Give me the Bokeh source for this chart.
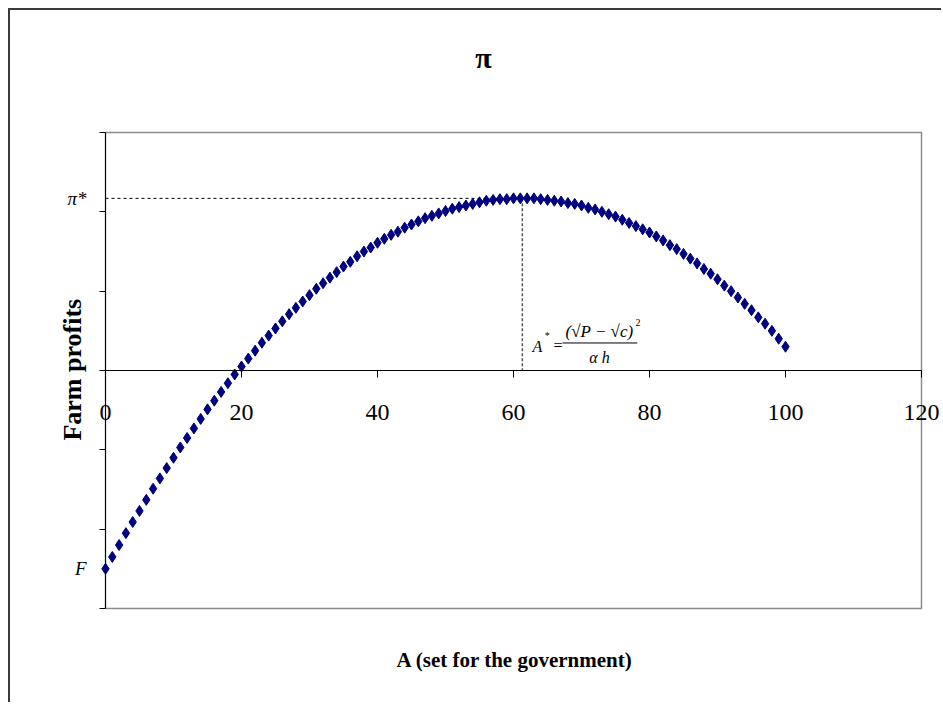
from bokeh.plotting import figure
from bokeh.models import Range1d, FixedTicker, Label
from bokeh.embed import file_html
from bokeh.resources import INLINE
import math

# Farm profits as a function of A (the level set by the government)
area = list(range(0, 101))
profits = [
    -2.50, -2.35, -2.20, -2.05, -1.91, -1.77, -1.63, -1.49, -1.36, -1.23,
    -1.10, -0.97, -0.85, -0.73, -0.61, -0.49, -0.38, -0.27, -0.16, -0.05,
    0.05, 0.15, 0.25, 0.35, 0.44, 0.53, 0.62, 0.71, 0.79, 0.87,
    0.95, 1.03, 1.10, 1.17, 1.24, 1.31, 1.37, 1.44, 1.50, 1.55,
    1.61, 1.66, 1.71, 1.75, 1.80, 1.84, 1.88, 1.92, 1.95, 1.98,
    2.01, 2.04, 2.06, 2.08, 2.10, 2.12, 2.14, 2.15, 2.16, 2.16,
    2.17, 2.17, 2.17, 2.17, 2.16, 2.15, 2.14, 2.13, 2.11, 2.10,
    2.08, 2.05, 2.03, 2.00, 1.97, 1.94, 1.90, 1.86, 1.82, 1.78,
    1.74, 1.69, 1.64, 1.58, 1.53, 1.47, 1.41, 1.35, 1.28, 1.22,
    1.15, 1.07, 1.00, 0.92, 0.84, 0.76, 0.67, 0.59, 0.50, 0.40,
    0.30,
]
x_ticks = [0, 20, 40, 60, 80, 100, 120]
y_ticks = [-3, -2, -1, 0, 1, 2, 3]
a_star = 61.3                # profit-maximising A
pi_star = max(profits)       # maximum profit
fixed_cost = profits[0]      # profit at A = 0 (F)

SERIF = "Liberation Serif"

# Plot box spans x 0..120 and profit -3..3; the view is widened around it so
# the axes (placed at x = 0 and profit = 0) and all captions sit inside it.
x_lo, x_hi = x_ticks[0], x_ticks[-1]
y_lo, y_hi = y_ticks[0], y_ticks[-1]

p = figure(
    width=933, height=694,
    x_range=Range1d(-13.9706, 123.2353), y_range=Range1d(-4.2101, 4.5378),
    output_backend="svg", toolbar_location=None, title=None,
    min_border=0, min_border_left=0, min_border_right=0,
    min_border_top=0, min_border_bottom=0,
    background_fill_color="white", border_fill_color="white",
)
p.margin = (8, 0, 0, 8)
p.styles = {"border-top": "2px solid #3a3a3a", "border-left": "2px solid #3a3a3a"}

p.grid.visible = False
p.outline_line_color = None

# grey plot-area box
p.quad(left=x_lo, right=x_hi, bottom=y_lo, top=y_hi,
       fill_color=None, line_color="#8c8c8c", line_width=1.5)

# x axis crosses at profit = 0
xa = p.xaxis[0]
xa.fixed_location = 0
xa.bounds = (x_lo, x_hi)
xa.ticker = FixedTicker(ticks=x_ticks, minor_ticks=[])
xa.minor_tick_line_color = None
xa.major_tick_in = 0
xa.major_tick_out = 7
xa.axis_line_color = "black"
xa.major_tick_line_color = "black"
xa.major_label_standoff = 28
xa.major_label_text_font = SERIF
xa.major_label_text_font_size = "24px"
xa.major_label_text_color = "black"

# y axis at A = 0: plain tick marks, labelled only at F and pi*
ya = p.yaxis[0]
ya.fixed_location = 0
ya.bounds = (y_lo, y_hi)
ya.ticker = FixedTicker(ticks=[fixed_cost, pi_star], minor_ticks=y_ticks)
ya.major_label_overrides = {fixed_cost: "F", pi_star: "π*"}
ya.major_tick_line_color = None
ya.major_tick_in = 0
ya.major_tick_out = 0
ya.minor_tick_line_color = "black"
ya.minor_tick_in = 0
ya.minor_tick_out = 6
ya.axis_line_color = "black"
ya.major_label_standoff = 13
ya.major_label_text_font = SERIF
ya.major_label_text_font_size = "19px"
ya.major_label_text_font_style = "italic"
ya.major_label_text_color = "black"

# guide lines to the maximum
p.line([x_lo, a_star], [pi_star, pi_star], line_color="black", line_width=1, line_dash="3 3")
p.line([a_star, a_star], [pi_star, 0], line_color="#555555", line_width=1.5, line_dash="3 2")

p.scatter(area, profits, marker="diamond", size=11, color="#000080")

def add_label(x, y, text, size, style="normal", align="center", angle=0.0, baseline="middle"):
    p.add_layout(Label(x=x, y=y, text=text, text_font=SERIF, text_font_size=size,
                       text_font_style=style, text_align=align, text_baseline=baseline,
                       angle=angle, text_color="black"))

add_label(55.6, 3.95, "π", "30px", "bold")
add_label(60.2, -3.655, "A (set for the government)", "21px", "bold")
add_label(-4.85, 0.01, "Farm profits", "26px", "bold", angle=math.pi / 2)

# A* formula
add_label(62.8, 0.30, "A", "16px", "italic", align="left")
add_label(64.6, 0.44, "*", "10px", align="left")
add_label(65.9, 0.31, "=", "16px", align="left")
add_label(72.65, 0.49, "(√P − √c)", "17px", "italic")
add_label(78.3, 0.60, "2", "10px")
p.line([67.2, 78.2], [0.347, 0.347], line_color="black", line_width=1)
add_label(72.65, 0.16, "α h", "16px", "italic")

open("out.html", "w").write(file_html(p, INLINE))
